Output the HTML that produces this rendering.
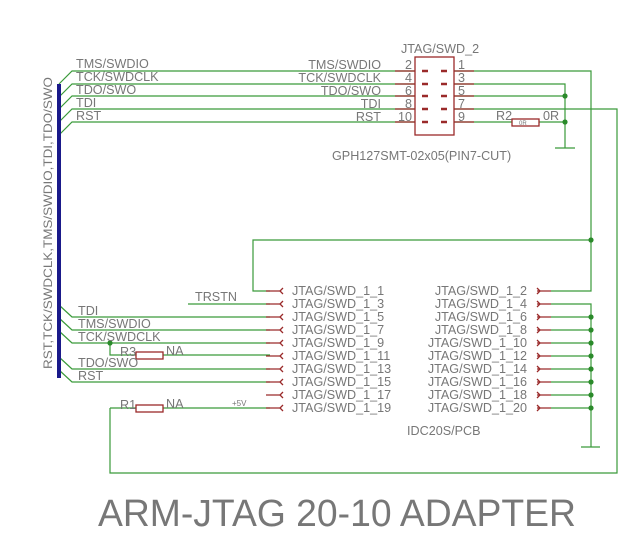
<!DOCTYPE html>
<html><head><meta charset="utf-8"><style>
html,body{margin:0;padding:0;background:#fff;}
svg{display:block;}
text{font-family:"Liberation Sans",sans-serif;fill:#777;}
</style></head><body>
<svg width="639" height="539" viewBox="0 0 639 539" xmlns="http://www.w3.org/2000/svg">
<g stroke="#3a9a3a" stroke-width="1.2" fill="none">
<path d="M59 84 L72 71 H415"/>
<path d="M59 97 L72 84 H415"/>
<path d="M59 109 L72 96 H415"/>
<path d="M59 122 L72 109 H415"/>
<path d="M59 135 L72 122 H415"/>
<path d="M454 71 H591 V240"/>
<path d="M454 84 H565 V148"/>
<path d="M454 96 H565"/>
<path d="M454 109 H617 V473 H110 V408"/>
<path d="M454 122 H512 M539 122 H565"/>
<path d="M555 148 H575"/>
<path d="M591 240 H253 V291 H270"/>
<path d="M188 304 H270"/>
<path d="M59 305 L72 317 H270"/>
<path d="M59 318 L72 330 H270"/>
<path d="M59 331 L72 343 H270"/>
<path d="M110 343 V355 H136 M163 355 H270"/>
<path d="M59 357 L72 369 H270"/>
<path d="M59 370 L72 382 H270"/>
<path d="M110 408 H136 M163 408 H270"/>
<path d="M551 291 H591 V240"/>
<path d="M551 304 H591 V447"/>
<path d="M551 317 H591 M551 330 H591 M551 343 H591 M551 356 H591 M551 369 H591 M551 382 H591 M551 395 H591 M551 408 H591"/>
<path d="M581 447 H600"/>
</g>
<g fill="#2a8a2a">
<circle cx="591" cy="240" r="2.6"/>
<circle cx="565" cy="96" r="2.6"/>
<circle cx="565" cy="122" r="2.6"/>
<circle cx="110" cy="343" r="2.6"/>
<circle cx="591" cy="317" r="2.6"/><circle cx="591" cy="330" r="2.6"/><circle cx="591" cy="343" r="2.6"/><circle cx="591" cy="356" r="2.6"/><circle cx="591" cy="369" r="2.6"/><circle cx="591" cy="382" r="2.6"/><circle cx="591" cy="395" r="2.6"/><circle cx="591" cy="408" r="2.6"/>
</g>
<rect x="57" y="84" width="4" height="294" fill="#1a1a8a"/>
<text transform="translate(52,369) rotate(-90)" font-size="12" textLength="292" lengthAdjust="spacingAndGlyphs">RST,TCK/SWDCLK,TMS/SWDIO,TDI,TDO/SWO</text>
<g stroke="#9a2a2a" stroke-width="1.3" fill="none">
<rect x="415" y="57" width="39" height="78"/>
<path d="M395 71 H415 M395 84 H415 M395 96 H415 M395 109 H415 M395 122 H415"/>
<path d="M454 71 H474 M454 84 H474 M454 96 H474 M454 109 H474 M454 122 H474"/>
<rect x="512" y="119" width="27" height="7"/>
<rect x="136" y="352" width="27" height="7"/>
<rect x="136" y="405" width="27" height="7"/>
<path d="M266 291 H280 M266 304 H280 M266 317 H280 M266 330 H280 M266 343 H280 M266 356 H280 M266 369 H280 M266 382 H280 M266 395 H280 M266 408 H280"/>
<path d="M537 291 H551 M537 304 H551 M537 317 H551 M537 330 H551 M537 343 H551 M537 356 H551 M537 369 H551 M537 382 H551 M537 395 H551 M537 408 H551"/>
</g>
<g stroke="#9a2a2a" stroke-width="2.4">
<path d="M422 71 H428 M441 71 H447 M422 84 H428 M441 84 H447 M422 96 H428 M441 96 H447 M422 109 H428 M441 109 H447 M422 122 H428 M441 122 H447"/>
</g>
<g stroke="#9a2a2a" stroke-width="1.3" fill="none">
<path d="M283 288 L280 291 L283 294 M283 301 L280 304 L283 307 M283 314 L280 317 L283 320 M283 327 L280 330 L283 333 M283 340 L280 343 L283 346 M283 353 L280 356 L283 359 M283 366 L280 369 L283 372 M283 379 L280 382 L283 385 M283 392 L280 395 L283 398 M283 405 L280 408 L283 411"/>
<path d="M537 288 L540 291 L537 294 M537 301 L540 304 L537 307 M537 314 L540 317 L537 320 M537 327 L540 330 L537 333 M537 340 L540 343 L537 346 M537 353 L540 356 L537 359 M537 366 L540 369 L537 372 M537 379 L540 382 L537 385 M537 392 L540 395 L537 398 M537 405 L540 408 L537 411"/>
</g>
<g font-size="12.6">
<text x="76" y="68">TMS/SWDIO</text>
<text x="76" y="81">TCK/SWDCLK</text>
<text x="76" y="94">TDO/SWO</text>
<text x="76" y="107">TDI</text>
<text x="76" y="120">RST</text>
<g text-anchor="end">
<text x="381" y="69">TMS/SWDIO</text>
<text x="381" y="82">TCK/SWDCLK</text>
<text x="381" y="95">TDO/SWO</text>
<text x="381" y="108">TDI</text>
<text x="381" y="121">RST</text>
<text x="412" y="69">2</text><text x="412" y="82">4</text><text x="412" y="95">6</text><text x="412" y="108">8</text><text x="412" y="121">10</text>
</g>
<text x="458" y="69">1</text><text x="458" y="82">3</text><text x="458" y="95">5</text><text x="458" y="108">7</text><text x="458" y="121">9</text>
<text x="401" y="53">JTAG/SWD_2</text>
<text x="332" y="160">GPH127SMT-02x05(PIN7-CUT)</text>
<text x="496" y="120">R2</text>
<text x="543" y="120">0R</text>
</g>
<text x="519" y="125" font-size="6" fill="#777">0R</text>
<g font-size="12.6">
<text x="195" y="301">TRSTN</text>
<text x="78" y="315">TDI</text>
<text x="78" y="328">TMS/SWDIO</text>
<text x="78" y="341">TCK/SWDCLK</text>
<text x="120" y="356">R3</text>
<text x="166" y="355">NA</text>
<text x="78" y="367">TDO/SWO</text>
<text x="78" y="380">RST</text>
<text x="120" y="409">R1</text>
<text x="166" y="408">NA</text>
<text x="292" y="295">JTAG/SWD_1_1</text>
<text x="292" y="308">JTAG/SWD_1_3</text>
<text x="292" y="321">JTAG/SWD_1_5</text>
<text x="292" y="334">JTAG/SWD_1_7</text>
<text x="292" y="347">JTAG/SWD_1_9</text>
<text x="292" y="360">JTAG/SWD_1_11</text>
<text x="292" y="373">JTAG/SWD_1_13</text>
<text x="292" y="386">JTAG/SWD_1_15</text>
<text x="292" y="399">JTAG/SWD_1_17</text>
<text x="292" y="412">JTAG/SWD_1_19</text>
<g text-anchor="end">
<text x="527" y="295">JTAG/SWD_1_2</text>
<text x="527" y="308">JTAG/SWD_1_4</text>
<text x="527" y="321">JTAG/SWD_1_6</text>
<text x="527" y="334">JTAG/SWD_1_8</text>
<text x="527" y="347">JTAG/SWD_1_10</text>
<text x="527" y="360">JTAG/SWD_1_12</text>
<text x="527" y="373">JTAG/SWD_1_14</text>
<text x="527" y="386">JTAG/SWD_1_16</text>
<text x="527" y="399">JTAG/SWD_1_18</text>
<text x="527" y="412">JTAG/SWD_1_20</text>
</g>
<text x="407" y="435">IDC20S/PCB</text>
</g>
<text x="232" y="406" font-size="8">+5V</text>
<text x="98" y="526" font-size="38" textLength="478" lengthAdjust="spacingAndGlyphs" fill="#7a7a7a">ARM-JTAG 20-10 ADAPTER</text>
</svg>
</body></html>
